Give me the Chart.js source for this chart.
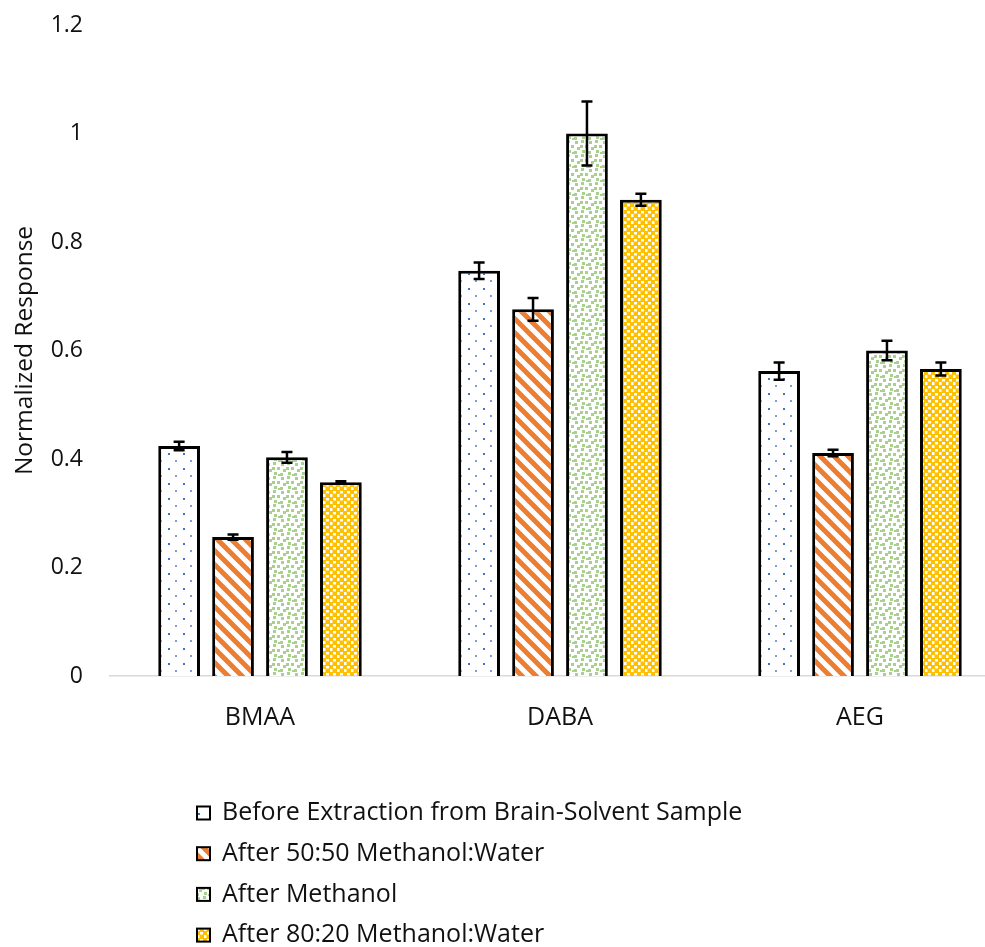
<!DOCTYPE html>
<html>
<head>
<meta charset="utf-8">
<script src="https://cdn.jsdelivr.net/npm/chart.js@4.4.1/dist/chart.umd.min.js"></script>
<style>
  html, body { margin: 0; padding: 0; background: #ffffff; overflow: hidden; }
  #wrap { position: relative; width: 1010px; height: 947px; }
</style>
</head>
<body>
<div id="wrap"><canvas id="chart" width="1010" height="947"></canvas></div>
<script>
// Analytes on the x axis
const categories = ['BMAA', 'DABA', 'AEG'];

// Series names
const seriesNames = [
  'Before Extraction from Brain-Solvent Sample',
  'After 50:50 Methanol:Water',
  'After Methanol',
  'After 80:20 Methanol:Water'
];

// Normalized response per series (BMAA, DABA, AEG)
const beforeExtraction = [0.424, 0.747, 0.562];
const after5050 = [0.256, 0.676, 0.411];
const afterMethanol = [0.403, 1.000, 0.600];
const after8020 = [0.357, 0.878, 0.566];

// Error bar half-widths per series
const errBefore = [0.008, 0.015, 0.016];
const err5050 = [0.005, 0.021, 0.006];
const errMethanol = [0.010, 0.059, 0.018];
const err8020 = [0.002, 0.011, 0.012];

// Y axis ticks
const yTicks = [0, 0.2, 0.4, 0.6, 0.8, 1, 1.2];

const FONT = "'Open Sans', 'Noto Sans', sans-serif";

// ---- fill patterns ----
function tile(w, h, paint) {
  const c = document.createElement('canvas');
  c.width = w; c.height = h;
  const g = c.getContext('2d');
  g.fillStyle = '#ffffff';
  g.fillRect(0, 0, w, h);
  paint(g, w, h);
  return c;
}
const ctxMain = document.getElementById('chart').getContext('2d');

// sparse blue dots
const dotsTile = tile(15, 15, (g) => {
  g.fillStyle = '#4472C4';
  g.fillRect(3, 3, 2, 2);
  g.fillStyle = '#7E9DD6';
  g.fillRect(10, 10, 2, 2);
});
// wide orange downward diagonal
const stripeTile = tile(14, 14, (g, w, h) => {
  g.strokeStyle = '#ED7D31';
  g.lineWidth = 5;
  g.beginPath();
  g.moveTo(-w, 0); g.lineTo(w, 2 * h);
  g.moveTo(0, -h); g.lineTo(2 * w, h);
  g.moveTo(0, 0); g.lineTo(w, h);
  g.moveTo(-w, -h); g.lineTo(0, 0);
  g.moveTo(w, h); g.lineTo(2 * w, 2 * h);
  g.stroke();
});
// green confetti
const confettiTile = tile(14, 14, (g) => {
  g.fillStyle = '#A9D18E';
  const bits = [[1, 1], [7, 0], [11, 5], [3, 7], [8, 10], [0, 11], [6, 5], [12, 12]];
  bits.forEach(([x, y]) => g.fillRect(x, y, 3, 3));
});
// small yellow checkerboard
const checkTile = tile(7, 7, (g) => {
  g.fillStyle = '#FFC000';
  g.fillRect(0, 0, 4, 4);
  g.fillRect(3.5, 3.5, 3.5, 3.5);
  g.fillRect(4, 0, 3, 1);
  g.fillRect(0, 4, 1, 3);
});
const patterns = [dotsTile, stripeTile, confettiTile, checkTile].map(t => ctxMain.createPattern(t, 'repeat'));
const swatchTiles = [dotsTile, stripeTile, confettiTile, checkTile];

const seriesValues = [beforeExtraction, after5050, afterMethanol, after8020];
const seriesErrors = [errBefore, err5050, errMethanol, err8020];

const datasets = seriesNames.map((name, i) => ({
  label: name,
  data: seriesValues[i],
  errors: seriesErrors[i],
  backgroundColor: patterns[i],
  borderColor: '#000000',
  borderWidth: 3,
  borderSkipped: 'start'
}));

// error bars with caps
const errorBars = {
  id: 'errorBars',
  afterDatasetsDraw(chart) {
    const { ctx, scales: { y } } = chart;
    ctx.save();
    ctx.strokeStyle = '#000000';
    ctx.lineWidth = 2.5;
    chart.data.datasets.forEach((ds, di) => {
      const meta = chart.getDatasetMeta(di);
      meta.data.forEach((bar, i) => {
        const v = ds.data[i], e = ds.errors[i];
        const yt = y.getPixelForValue(v + e);
        const yb = y.getPixelForValue(v - e);
        const x = bar.x, cap = 5.5;
        ctx.beginPath();
        ctx.moveTo(x, yt); ctx.lineTo(x, yb);
        ctx.moveTo(x - cap, yt); ctx.lineTo(x + cap, yt);
        ctx.moveTo(x - cap, yb); ctx.lineTo(x + cap, yb);
        ctx.stroke();
      });
    });
    ctx.restore();
  }
};

// stacked legend below the plot
const stackedLegend = {
  id: 'stackedLegend',
  afterDraw(chart) {
    const { ctx, chartArea } = chart;
    const x0 = chartArea.left + 87;
    const y0 = chartArea.bottom + 137;
    const rowGap = 40.7;
    ctx.save();
    ctx.font = "25px " + FONT;
    ctx.textBaseline = 'middle';
    ctx.textAlign = 'left';
    chart.data.datasets.forEach((ds, i) => {
      const cy = y0 + i * rowGap;
      const size = 13;
      const bx = x0, by = cy - size / 2;
      ctx.fillStyle = ctx.createPattern(swatchTiles[i], 'repeat');
      ctx.fillRect(bx, by, size, size);
      ctx.strokeStyle = '#000000';
      ctx.lineWidth = 2;
      ctx.strokeRect(bx, by, size, size);
      ctx.fillStyle = '#111111';
      ctx.fillText(ds.label, bx + size + 12, cy);
    });
    ctx.restore();
  }
};

new Chart(ctxMain, {
  type: 'bar',
  data: { labels: categories, datasets },
  plugins: [errorBars, stackedLegend],
  options: {
    responsive: false,
    animation: false,
    layout: { padding: { top: 25, left: 0, right: 0, bottom: 211 } },
    plugins: { legend: { display: false }, tooltip: { enabled: false } },
    datasets: { bar: { categoryPercentage: 0.719, barPercentage: 0.774 } },
    scales: {
      x: {
        grid: { display: false, drawTicks: false },
        border: { display: true, color: '#D9D9D9', width: 1.5 },
        ticks: { color: '#111111', font: { family: FONT, size: 25 }, padding: 27 },
        afterFit(scale) { scale.height = 60; }
      },
      y: {
        min: 0,
        max: 1.2,
        afterBuildTicks(scale) { scale.ticks = yTicks.map(v => ({ value: v })); },
        grid: { display: false, drawTicks: false },
        border: { display: false },
        ticks: {
          color: '#111111',
          font: { family: FONT, size: 23 },
          padding: 27,
          callback: (v) => String(Number(v.toFixed(1)))
        },
        title: {
          display: true,
          text: 'Normalized Response',
          color: '#111111',
          font: { family: FONT, size: 24.5 },
          padding: { top: 10, bottom: 0 }
        },
        afterFit(scale) {
          scale.width = 110;
          scale.paddingTop = 12;
          scale.paddingBottom = 12;
        }
      }
    }
  }
});
</script>
</body>
</html>
